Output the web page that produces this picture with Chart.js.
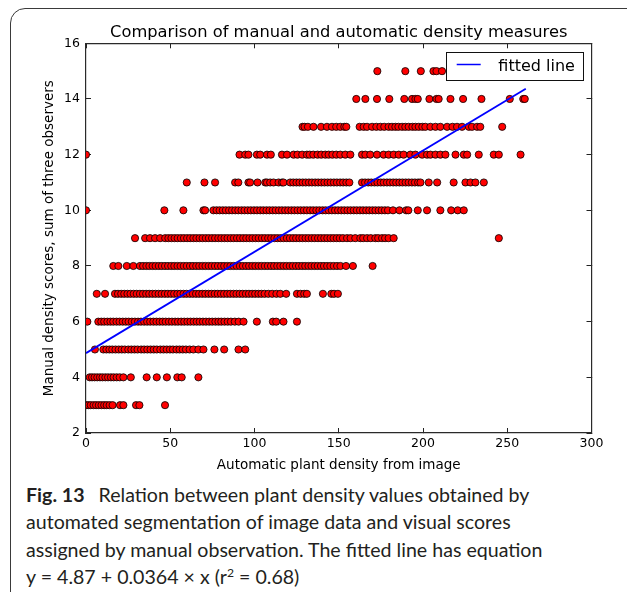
<!DOCTYPE html>
<html>
<head>
<meta charset="utf-8">
<script src="https://cdn.jsdelivr.net/npm/chart.js@4.4.1/dist/chart.umd.min.js"></script>
<style>
html, body { margin: 0; padding: 0; background: #fff; }
body { width: 627px; height: 592px; overflow: hidden; position: relative; }
#frame { position: absolute; left: 10px; top: 8px; width: 660px; height: 660px; border: 1.4px solid #3a3a3a; border-radius: 15px; box-sizing: border-box; }
#chart { position: absolute; left: 0; top: 0; }
#caption { position: absolute; left: 26px; top: 481px; font-family: Lato, "Open Sans", sans-serif; font-size: 19.6px; line-height: 27.3px; color: #231f20; white-space: nowrap; }
#caption b { font-weight: 700; margin-right: 9px; }
#caption sup { font-size: 0.62em; line-height: 0; vertical-align: 0.6em; }
</style>
</head>
<body>
<div id="frame"></div>
<canvas id="chart" width="627" height="480"></canvas>
<div id="caption"><b>Fig. 13</b> Relation between plant density values obtained by<br>automated segmentation of image data and visual scores<br>assigned by manual observation. The fitted line has equation<br>y = 4.87 + 0.0364 × x (r<sup>2</sup> = 0.68)</div>
<script>
const titleText = 'Comparison of manual and automatic density measures';
const xTitle = 'Automatic plant density from image';
const yTitle = 'Manual density scores, sum of three observers';
const fitLabel = 'fitted line';

const xTicks = [0, 50, 100, 150, 200, 250, 300];
const yTicks = [2, 4, 6, 8, 10, 12, 14, 16];

// fitted line y = 4.87 + 0.0364 x, drawn between its two ends
const fitX = [0, 261];
const fitY = [4.87, 14.37];

// automatic density (x) of every image, grouped by its manual score (y)
const scoreLevels = [3, 4, 5, 6, 7, 8, 9, 10, 11, 12, 13, 14, 15];

const score3 = [0, 1.4, 2.8, 4.5, 6, 7.6, 9.2, 10.8, 12.3, 14, 15.8, 20.2, 22.2, 29.7, 31.7, 46.9];
const score4 = [2.2, 3.6, 5.1, 6.7, 8.3, 9.8, 11.5, 13.1, 14.8, 16.4, 18.2, 20, 22.2, 26.6, 36, 42, 48, 54.2, 56.8, 66.7];
const score5 = [5.3, 10.3, 12.1, 13.9, 15.6, 17.5, 19.4, 21.2, 23, 25.1, 26.9, 28.8, 30.6, 32.7, 34.5, 36.4, 38.3,
  40.2, 42, 44.1, 46, 47.9, 49.8, 51.6, 53.7, 55.5, 57.4, 59.3, 61.5, 63.7, 66.7, 69.7, 76.2, 82, 90.5, 94.5];
const score6 = [0.8, 7.3, 9.1, 10.8, 12.7, 14.5, 16.2, 18.1, 19.9, 21.8, 23.6, 25.3, 27.2, 29, 30.9, 32.6, 34.5,
  36.3, 38.1, 40, 41.8, 43.7, 45.5, 47.3, 49.2, 51, 52.9, 54.6, 56.5, 58.3, 60.2, 62, 63.9, 65.7, 67.5, 69.4,
  71.2, 73.1, 74.9, 76.8, 78.6, 80.3, 82.2, 84.1, 86, 88.3, 90.6, 93.5, 101.4, 110.9, 112.9, 117.2, 125.2];
const score7 = [6.4, 11.3, 17.2, 19, 20.9, 22.7, 24.6, 26.4, 28.3, 30.1, 32, 33.8, 35.7, 37.5, 39.4, 41.2, 43.1,
  44.9, 46.8, 48.6, 50.5, 52.3, 54.2, 56, 57.9, 59.7, 61.6, 63.4, 65.3, 67.1, 69, 70.8, 72.7, 74.5, 76.4, 78.2,
  80.1, 81.9, 83.8, 85.6, 87.5, 89.3, 91.2, 93, 94.9, 96.7, 98.6, 100.4, 102.3, 104.1, 106, 108.2, 110.5, 113,
  115.3, 118.8, 125.2, 127.4, 129.5, 131.1, 140.6, 145.6, 147.2, 149.5];
const score8 = [16.2, 19.2, 24.2, 28.1, 32, 33.9, 35.8, 37.6, 39.5, 41.3, 43.2, 45, 46.9, 48.7, 50.6, 52.4, 54.3,
  56.1, 58, 59.8, 61.7, 63.5, 65.4, 67.2, 69.1, 70.9, 72.8, 74.6, 76.5, 78.3, 80.2, 82, 83.9, 85.7, 87.6, 89.4,
  91.3, 93.1, 95, 96.8, 98.7, 100.5, 102.4, 104.2, 106.1, 107.9, 109.8, 111.6, 113.5, 115.3, 117.2, 119, 120.9,
  122.7, 124.6, 126.4, 128.3, 130.1, 132, 133.8, 135.7, 137.5, 139.4, 141.2, 143.1, 145, 147, 149, 151,
  154.3, 158.4, 170.1];
const score9 = [29.1, 35.1, 38, 41, 44, 47, 48.9, 50.7, 52.6, 54.4, 56.3, 58.1, 60, 61.8, 63.7, 65.5, 67.4, 69.2,
  71.1, 72.9, 74.8, 76.6, 78.5, 80.3, 82.2, 84, 85.9, 87.7, 89.6, 91.4, 93.3, 95.1, 97, 98.8, 100.7, 102.5,
  104.4, 106.2, 108.1, 109.9, 111.8, 113.6, 115.5, 117.3, 119.2, 121, 122.9, 124.7, 126.6, 128.4, 130.3, 132.1,
  134, 135.8, 137.7, 139.5, 141.4, 143.2, 145.1, 146.9, 148.8, 150.6, 152.5, 154.9, 157, 159.8, 162.8, 164.5,
  166.8, 169, 171.7, 173.4, 175.7, 177.5, 179.6, 182.6, 245];
const score10 = [0, 46.5, 57.8, 69.7, 70.7, 75.6, 77.5, 79.3, 81.2, 83, 84.9, 86.7, 88.6, 90.4, 92.3, 94.1, 96,
  97.8, 99.7, 101.5, 103.4, 105.2, 107.1, 108.9, 110.8, 112.6, 114.5, 116.3, 118.2, 120, 121.9, 123.7, 125.6,
  127.4, 129.3, 131.1, 133, 134.8, 136.7, 138.5, 140.4, 142.2, 144.1, 145.9, 147.8, 149.6, 151.5, 153.3, 155.2,
  157, 158.9, 160.7, 162.6, 164.4, 166.3, 168.1, 170, 171.8, 173.7, 175.5, 177.4, 179.2, 182.2, 186, 190, 191.3,
  196.9, 202.4, 210.3, 216.7, 220.6, 224.2];
const score11 = [59.8, 70.3, 76.6, 88.5, 90.4, 96.4, 97.4, 101.8, 106.4, 107.4, 109.3, 111.3, 114.3, 116.3, 117.2,
  121.2, 123, 124.9, 126.7, 128.6, 130.4, 132.3, 134.1, 136, 137.8, 139.7, 141.5, 143.4, 145.2, 147.1, 148.9,
  150.8, 152.6, 154.5, 156.3, 163.8, 165.6, 167.5, 169.3, 171.2, 173, 174.9, 176.7, 178.6, 180.4, 182.3, 184.1,
  186, 187.8, 189.7, 191.5, 193.4, 195.2, 197.1, 198.5, 203.4, 208.4, 218.2, 225.2, 228.2, 231.1, 236.1];
const score12 = [0, 91.1, 94.5, 96.4, 101.4, 103.4, 107.4, 109.7, 116.3, 119.3, 123.2, 125.5, 128.3, 131.1, 132.7,
  134.9, 137.4, 139.6, 142, 144, 146.2, 148.5, 150.9, 153.9, 156.9, 163.8, 165.8, 168.7, 172.7, 176.6, 179.6,
  182.6, 185.6, 188.5, 192.5, 195.5, 199.5, 202.4, 204.4, 207.4, 210.3, 213.3, 219.3, 224.2, 226.2, 233.1, 242,
  245, 257.9];
const score13 = [128.5, 129.7, 131.7, 135, 139.5, 143, 146, 148.5, 150.9, 153.3, 154.5, 162.4, 164.8, 166.8, 169.8,
  172.3, 174.7, 177, 179.6, 181.6, 183.6, 185.4, 187.6, 189.5, 191.5, 193.7, 195.5, 197.5, 199.6, 201.4, 204.4,
  207.4, 210.3, 214.3, 217.5, 220.2, 223.2, 227.2, 229.1, 232.1, 234, 247];
const score14 = [160.4, 165.8, 172.7, 180, 188.9, 193.5, 195.5, 196.9, 203.8, 208, 209.3, 216.3, 223.8, 234.7,
  251.5, 259.5, 260.4];
const score15 = [172.9, 189.5, 198.7, 206.2, 208, 211.3];

const xByScore = [score3, score4, score5, score6, score7, score8, score9, score10, score11, score12, score13, score14, score15];

const points = [];
scoreLevels.forEach((level, i) => {
    xByScore[i].forEach(x => points.push({ x: x, y: level }));
});

Chart.defaults.font.family = '"DejaVu Sans", sans-serif';
Chart.defaults.color = '#000';

const setTicks = values => scale => { scale.ticks = values.map(v => ({ value: v })); };

const axisGrid = { drawOnChartArea: false, tickLength: -5, tickColor: '#222', tickWidth: 1 };
const axisBorder = { display: true, color: '#2a2a2a', width: 1.2 };

/* ===== TITLE AND LEGEND BOX ===== */
const decorations = {
    id: 'decorations',
    afterDraw(chart) {
        const { ctx, chartArea: a } = chart;
        ctx.save();
        ctx.fillStyle = '#000';
        ctx.font = '16.3px "DejaVu Sans"';
        ctx.textAlign = 'center';
        ctx.textBaseline = 'alphabetic';
        ctx.fillText(titleText, (a.left + a.right) / 2, a.top - 6);

        // legend in the upper right corner, like matplotlib's
        const fit = chart.data.datasets[0];
        const bw = 136.7, bh = 28.3;
        const bx = a.right - 8.8 - bw, by = a.top + 8.4;
        ctx.fillStyle = '#fff';
        ctx.fillRect(bx, by, bw, bh);
        ctx.strokeStyle = '#111';
        ctx.lineWidth = 1;
        ctx.strokeRect(Math.round(bx) + 0.5, Math.round(by) + 0.5, Math.round(bw), Math.round(bh));
        ctx.strokeStyle = fit.borderColor;
        ctx.lineWidth = 1.5;
        ctx.beginPath();
        ctx.moveTo(bx + 10.7, by + 12.8);
        ctx.lineTo(bx + 34.7, by + 12.8);
        ctx.stroke();
        ctx.fillStyle = '#000';
        ctx.textAlign = 'left';
        ctx.font = '16px "DejaVu Sans"';
        ctx.fillText(fit.label, bx + 52.3, by + 19.3);
        ctx.restore();
    }
};

const ctx = document.getElementById('chart').getContext('2d');

const chart = new Chart(ctx, {
    type: 'scatter',
    data: {
        datasets: [
            {
                label: fitLabel,
                data: fitX.map((x, i) => ({ x: x, y: fitY[i] })),
                showLine: true,
                borderColor: '#0000ff',
                borderWidth: 1.8,
                pointRadius: 0,
                order: 0
            },
            {
                label: 'scores',
                data: points,
                pointRadius: 3.6,
                pointBackgroundColor: '#ff0000',
                pointBorderColor: '#000',
                pointBorderWidth: 0.8,
                clip: 0,
                order: 1
            }
        ]
    },
    options: {
        responsive: false,
        animation: false,
        events: [],
        layout: { padding: { top: 43.3, right: 35.5, left: 0, bottom: 0 } },
        plugins: {
            legend: { display: false },
            tooltip: { enabled: false }
        },
        scales: {
            x: {
                type: 'linear', position: 'bottom', z: 1,
                min: xTicks[0], max: xTicks[xTicks.length - 1],
                afterBuildTicks: setTicks(xTicks),
                afterFit: s => { s.height = 47; },
                ticks: { padding: 8.5, font: { size: 12.5 }, color: '#000' },
                grid: axisGrid,
                border: axisBorder,
                title: { display: true, text: xTitle, font: { size: 13.5 }, color: '#000', padding: { top: 0, bottom: 6.4 } }
            },
            y: {
                type: 'linear', position: 'left', z: 1,
                min: yTicks[0], max: yTicks[yTicks.length - 1],
                afterBuildTicks: setTicks(yTicks),
                afterFit: s => { s.width = 86; },
                ticks: { padding: 11, font: { size: 12.5 }, color: '#000' },
                grid: axisGrid,
                border: axisBorder,
                title: { display: true, text: yTitle, font: { size: 13.5 }, color: '#000', padding: { top: 40.9, bottom: 0 } }
            },
            x2: {
                type: 'linear', position: 'top', z: 1,
                min: xTicks[0], max: xTicks[xTicks.length - 1],
                afterBuildTicks: setTicks(xTicks),
                afterFit: s => { s.height = 0; },
                ticks: { display: false },
                grid: axisGrid,
                border: axisBorder
            },
            y2: {
                type: 'linear', position: 'right', z: 1,
                min: yTicks[0], max: yTicks[yTicks.length - 1],
                afterBuildTicks: setTicks(yTicks),
                afterFit: s => { s.width = 0; },
                ticks: { display: false },
                grid: axisGrid,
                border: axisBorder
            }
        }
    },
    plugins: [decorations]
});
</script>
</body>
</html>
